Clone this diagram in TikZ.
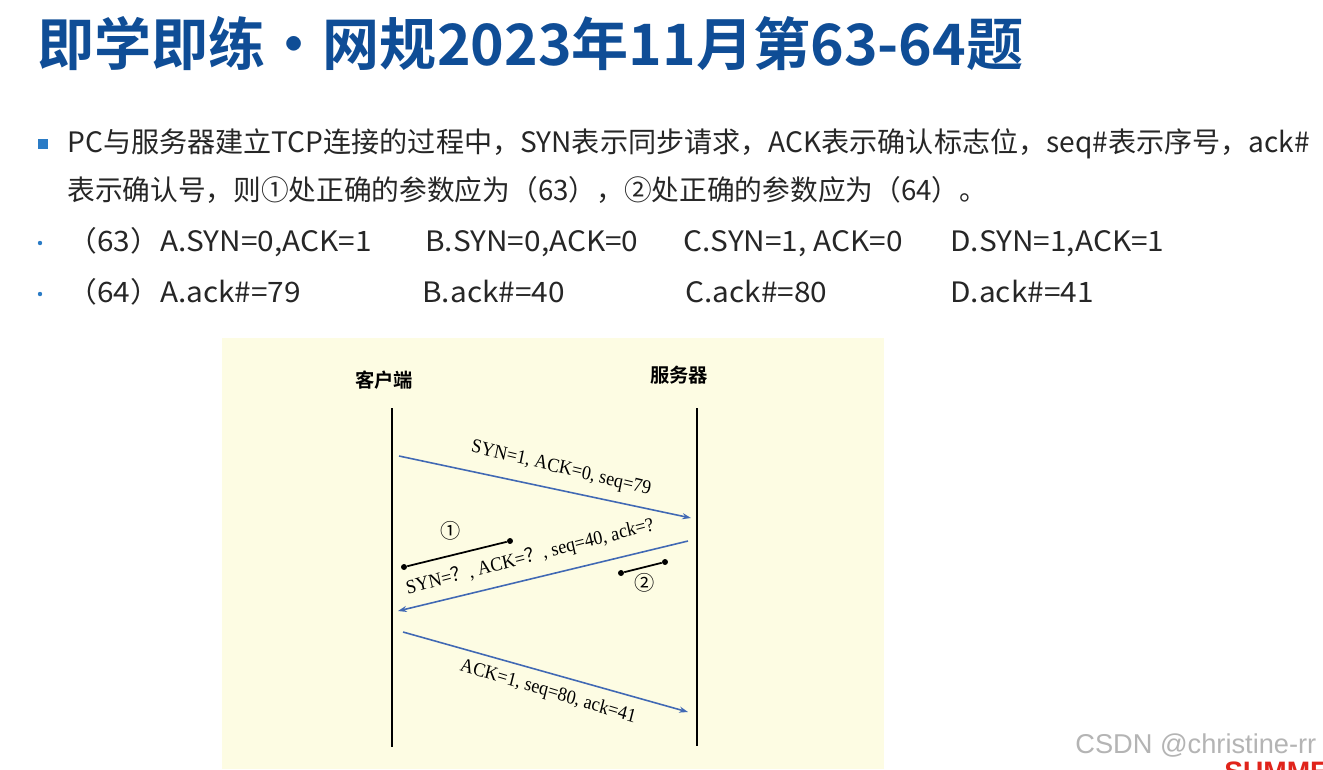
\documentclass[tikz,border=0pt]{standalone}
\usepackage{fontspec}
\usetikzlibrary{arrows.meta}
\setmainfont{Liberation Serif}
\newfontfamily\cjk{Noto Sans CJK SC}[BoldFont={* Bold}]
\newfontfamily\wm{Liberation Sans}
\definecolor{titleblue}{HTML}{0F4D96}
\definecolor{bulletblue}{HTML}{2B7CC6}
\definecolor{arrowblue}{HTML}{4169B4}
\definecolor{cream}{HTML}{FDFCE3}
\definecolor{wmgray}{HTML}{B4B4B4}
\definecolor{summerred}{HTML}{E0241B}
\newcommand\fwq{{\cjk ？}}
\tikzset{
  body/.style={anchor=base west, inner sep=0pt, font=\cjk\fontsize{16}{20}\selectfont, text=black!85},
  optrow/.style={body, xscale=1.06},
  lifeline/.style={line width=1.2pt, black},
  msg/.style={arrowblue, line width=0.9pt, -{Stealth[length=5pt,width=3.5pt]}},
  msglabel/.style={inner sep=0pt, font=\fontsize{11.2}{13}\selectfont, xscale=0.92},
  markline/.style={line width=1pt, black},
  enddot/.style={circle, fill=black, inner sep=0pt, minimum size=3.4pt},
  party/.style={inner sep=0pt, font=\cjk\bfseries\fontsize{11}{13}\selectfont},
  circnum/.style={inner sep=0pt, font=\cjk\fontsize{11.5}{13}\selectfont},
}
\begin{document}
\begin{tikzpicture}[x=0.02cm, y=-0.02cm]
\useasboundingbox (0,0) rectangle (1323,769);
\clip (0,0) rectangle (1323,769);
\fill[white] (0,0) rectangle (1323,769);
% title
\node[anchor=base west, inner sep=0pt, text=titleblue, font=\cjk\bfseries\fontsize{32.5}{36}\selectfont] (title) at (37,65) {即学即练・网规2023年11月第63-64题};
% bullets
\fill[bulletblue] (38,139) rectangle (48,149);
\fill[bulletblue] (40,243) circle (2.2);
\fill[bulletblue] (40,294) circle (2.2);
% body text
\node[body] (l1) at (67,152) {PC与服务器建立TCP连接的过程中，SYN表示同步请求，ACK表示确认标志位，seq\#表示序号，ack\#};
\node[body, xscale=0.985] (l2) at (67,200) {表示确认号，则①处正确的参数应为（63），②处正确的参数应为（64）。};
\node[optrow] (q63) at (67,251) {（63）A.SYN=0,ACK=1};
\node[optrow] (q63b) at (425,251) {B.SYN=0,ACK=0};
\node[optrow] (q63c) at (683,251) {C.SYN=1, ACK=0};
\node[optrow] (q63d) at (950,251) {D.SYN=1,ACK=1};
\node[optrow] (q64) at (67,302) {（64）A.ack\#=79};
\node[optrow] (q64b) at (422,302) {B.ack\#=40};
\node[optrow] (q64c) at (685,302) {C.ack\#=80};
\node[optrow] (q64d) at (950,302) {D.ack\#=41};
% diagram background
\fill[cream] (222,338) rectangle (884,769);
\node[party] (client) at (384,380) {客户端};
\node[party] (server) at (679,375) {服务器};
\coordinate (ct) at (392,408); \coordinate (cb) at (392,747);
\coordinate (st) at (697,408); \coordinate (sb) at (697,746);
\draw[lifeline] (ct) -- (cb);
\draw[lifeline] (st) -- (sb);
% messages
\coordinate (m1s) at (399,456); \coordinate (m1e) at (691,518);
\coordinate (m2s) at (688,541); \coordinate (m2e) at (398,611);
\coordinate (m3s) at (403,632); \coordinate (m3e) at (688,712);
\draw[msg] (m1s) -- (m1e);
\draw[msg] (m2s) -- (m2e);
\draw[msg] (m3s) -- (m3e);
\node[msglabel, rotate=-12.5] (lab1) at (561,469) {SYN=1, ACK=0, seq=79};
\node[msglabel, rotate=13.5] (lab2) at (530,557) {SYN=\fwq, ACK=\fwq, seq=40, ack=?};
\node[msglabel, rotate=-15.5] (lab3) at (548,692) {ACK=1, seq=80, ack=41};
% marks
\node[enddot] (a1) at (404,567) {};
\node[enddot] (b1) at (510,541) {};
\draw[markline] (a1) -- (b1);
\node[circnum] (n1) at (451,531) {①};
\node[enddot] (a2) at (621,573) {};
\node[enddot] (b2) at (665,562) {};
\draw[markline] (a2) -- (b2);
\node[circnum] (n2) at (645,583) {②};
% watermark
\node[anchor=base west, inner sep=0pt, text=wmgray, font=\wm\fontsize{15.5}{18}\selectfont] (wm) at (1075,753) {CSDN @christine-rr};
\node[anchor=base west, inner sep=0pt, text=summerred, font=\wm\bfseries\fontsize{16}{18}\selectfont] (summer) at (1224,781) {SUMMER};
\end{tikzpicture}
\end{document}
